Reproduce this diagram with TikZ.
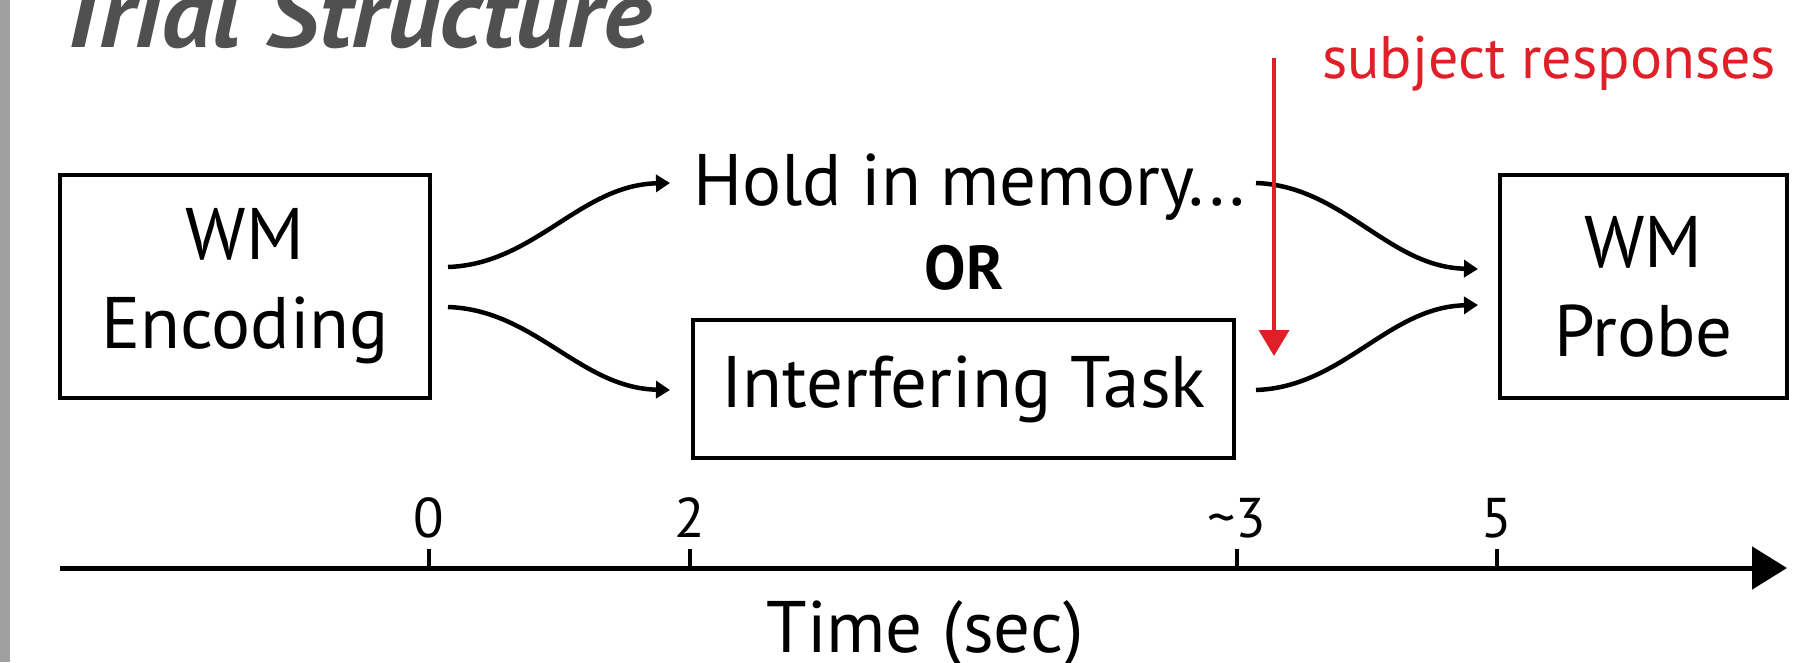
\documentclass[tikz,border=0pt]{standalone}
\usepackage{fontspec}
\setmainfont{PT Sans}
\usetikzlibrary{arrows.meta}
\definecolor{redc}{RGB}{224,32,40}
\definecolor{titlegray}{RGB}{80,80,80}
\definecolor{bargray}{RGB}{160,160,160}
\begin{document}
\begin{tikzpicture}[x=1pt,y=-1pt,
  box/.style={draw, line width=4.5pt, inner sep=0pt, align=center, font=\fontsize{73}{89}\selectfont},
  txt/.style={inner sep=0pt, font=\fontsize{73}{89}\selectfont},
  conn/.style={line width=4.5pt, -{Triangle[length=14pt,width=17pt]}},
  tick/.style={line width=4pt},
  ticklabel/.style={anchor=base, inner sep=0pt, font=\fontsize{56}{60}\selectfont}]
\useasboundingbox (0,0) rectangle (1810,662);
\fill[bargray] (0,0) rectangle (10,662);
\node[anchor=base west, inner sep=0pt, font=\bfseries\itshape\fontsize{97}{97}\selectfont, text=titlegray] (title) at (54,47) {\scalebox{1.06}[1]{Trial Structure}};
% boxes
\node[box, minimum width=370pt, minimum height=223pt] (enc) at (245,286.5) {WM\\Encoding};
\node[box, minimum width=541pt, minimum height=138pt] (task) at (963.5,389) {Interfering Task};
\node[box, minimum width=287pt, minimum height=223pt, text depth=-20pt] (probe) at (1643.5,286.5) {WM\\Probe};
\node[txt, anchor=base west] (hold) at (693,205) {Hold in memory...};
\node[anchor=base, inner sep=0pt, font=\bfseries\fontsize{62}{62}\selectfont] (or) at (964,289) {OR};
% connectors
\coordinate (ul0) at (448,267); \coordinate (ul1) at (670,183);
\coordinate (ll0) at (448,307); \coordinate (ll1) at (670,390);
\coordinate (ur0) at (1256,183); \coordinate (ur1) at (1478,269);
\coordinate (lr0) at (1256,390); \coordinate (lr1) at (1478,305);
\draw[conn] (ul0) .. controls (535,264) and (580,185) .. (ul1);
\draw[conn] (ll0) .. controls (535,310) and (580,388) .. (ll1);
\draw[conn] (ur0) .. controls (1343,186) and (1388,267) .. (ur1);
\draw[conn] (lr0) .. controls (1343,387) and (1388,307) .. (lr1);
% red arrow
\coordinate (rtop) at (1274,58); \coordinate (rtip) at (1274,356);
\draw[redc, line width=4pt, -{Triangle[length=26pt,width=30pt]}] (rtop) -- (rtip);
\node[anchor=base west, inner sep=0pt, text=redc, font=\fontsize{60}{60}\selectfont] (resp) at (1322,78) {subject responses};
% axis
\coordinate (ax0) at (60,568); \coordinate (ax1) at (1787,568);
\draw[line width=5pt, -{Triangle[length=35pt,width=42pt]}] (ax0) -- (ax1);
\foreach \x/\l/\n in {429/0/t0, 690/2/t2, 1237/\textasciitilde 3/t3, 1497/5/t5}{
  \coordinate (\n a) at (\x,568);
  \coordinate (\n b) at (\x,549);
  \draw[tick] (\n a) -- (\n b);
  \node[ticklabel] (\n) at (\x,537) {\l};
}
\node[txt, anchor=base] (time) at (925,652) {Time (sec)};
\end{tikzpicture}
\end{document}
